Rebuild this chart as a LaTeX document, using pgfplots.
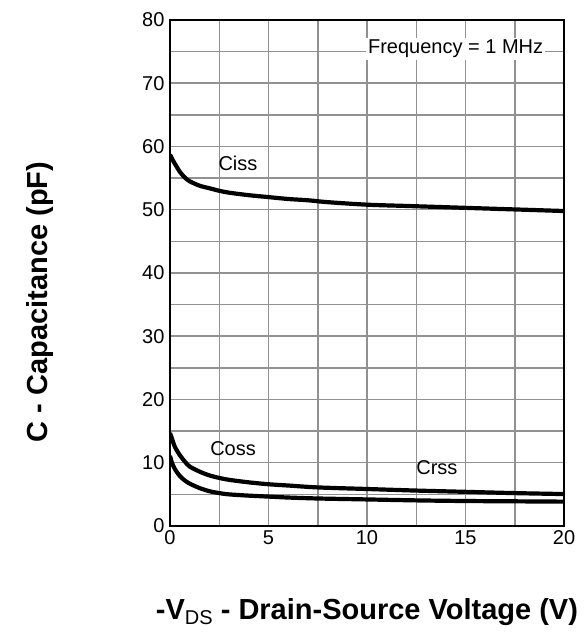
\documentclass[border=0pt]{standalone}
\usepackage{fontspec}
\setmainfont{Liberation Sans}
\usepackage{pgfplots}
\pgfplotsset{compat=1.18}

\definecolor{gridgray}{RGB}{145,145,145}
\tikzset{capcurve/.style={black, line width=4.2pt, smooth, mark=none}}

\begin{document}
\begin{tikzpicture}
\useasboundingbox (0,0) rectangle (587pt,642pt);
\begin{axis}[
  at={(170pt,116pt)}, anchor=south west,
  scale only axis,
  width=394pt, height=506pt,
  xmin=0, xmax=20, ymin=0, ymax=80,
  xtick={0,5,10,15,20},
  ytick={0,10,...,80},
  minor x tick num=1,
  minor y tick num=1,
  grid=both,
  major grid style={gridgray, line width=1.5pt},
  minor grid style={gridgray, line width=1.5pt},
  major tick length=0pt, minor tick length=0pt,
  axis line style={black, line width=1.6pt},
  /pgf/number format/assume math mode=true,
  tick label style={font=\fontsize{20}{24}\selectfont, text=black},
  xticklabel style={yshift=-1pt},
  yticklabel style={xshift=-2pt},
  xlabel={-V\raisebox{-0.18em}{\mdseries\fontsize{20}{20}\selectfont DS} - Drain-Source Voltage (V)},
  ylabel={C - Capacitance (pF)},
  xlabel style={at={(axis description cs:0.5,-0.17)}, anchor=center,
    font=\bfseries\fontsize{29}{32}\selectfont},
  ylabel style={at={(axis description cs:-0.33,0.443)}, anchor=center,
    rotate=0, font=\bfseries\fontsize{29}{32}\selectfont},
  clip=true,
]
% Input capacitance
\addplot[capcurve] coordinates {
  (0,58.7) (0.15,57.8) (0.3,57.0) (0.5,56.0) (0.75,55.1) (1,54.5)
  (1.5,53.8) (2,53.4) (2.5,53.0) (3,52.7) (4,52.3) (5,52.0) (6,51.7)
  (7,51.5) (8,51.2) (10,50.8) (12,50.6) (14,50.4) (16,50.2) (18,50.0) (20,49.8)
};
% Output capacitance
\addplot[capcurve] coordinates {
  (0,14.7) (0.1,13.8) (0.25,12.5) (0.5,11.2) (0.75,10.2) (1,9.4)
  (1.5,8.6) (2,8.0) (2.5,7.6) (3,7.3) (4,6.9) (5,6.6) (6,6.4)
  (7.5,6.1) (10,5.85) (12.5,5.6) (15,5.4) (17.5,5.2) (20,5.05)
};
% Reverse transfer capacitance
\addplot[capcurve] coordinates {
  (0,11.1) (0.1,10.0) (0.25,9.0) (0.5,7.9) (0.75,7.2) (1,6.7)
  (1.5,6.0) (2,5.5) (2.5,5.2) (3,5.0) (4,4.8) (5,4.65) (6,4.5)
  (7.5,4.35) (10,4.2) (12.5,4.05) (15,3.95) (17.5,3.9) (20,3.85)
};
\node[fill=white, inner sep=2pt, font=\fontsize{20}{24}\selectfont]
  at (axis cs:14.5,75.4) {Frequency = 1 MHz};
\node[font=\fontsize{20}{24}\selectfont] at (axis cs:3.45,57.4) {Ciss};
\node[font=\fontsize{20}{24}\selectfont] at (axis cs:3.2,12.3) {Coss};
\node[font=\fontsize{20}{24}\selectfont] at (axis cs:13.55,9.3) {Crss};
\end{axis}
\end{tikzpicture}
\end{document}
